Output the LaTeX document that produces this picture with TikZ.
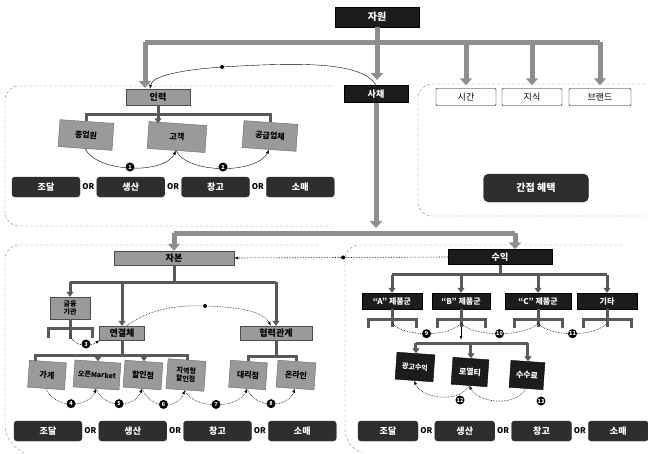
\documentclass[tikz,border=0pt]{standalone}
\usepackage{fontspec}
\setmainfont{Noto Sans CJK KR}
\usetikzlibrary{arrows.meta, positioning, calc}
\definecolor{cInk}{HTML}{1C1C1C}
\definecolor{cGrey}{HTML}{9A9A9A}
\definecolor{cBand}{HTML}{8E8E8E}
\definecolor{cZone}{HTML}{8A8A8A}

\begin{document}
\begin{tikzpicture}[x=1pt, y=-1pt,
    blk/.style = {draw=black, fill=cInk, text=white, minimum height=17pt, inner sep=1pt, font=\small\bfseries},
    gry/.style = {draw=black!70, fill=cGrey, minimum height=14pt, inner sep=1pt, font=\small\bfseries},
    card/.style = {draw=black!60, fill=cGrey, rotate=-4, inner sep=1pt, minimum height=27pt, align=center, font=\footnotesize\bfseries},
    bcard/.style = {card, draw=black, fill=cInk, text=white},
    wbox/.style = {draw=black, fill=white, rounded corners=1pt, minimum height=17pt, font=\small},
    pill/.style = {draw=black!80, fill=black!82, text=white, rounded corners=3pt, minimum height=20pt, font=\small\bfseries},
    orl/.style = {inner sep=1pt, font=\footnotesize\bfseries},
    band/.style = {draw=cBand, line width=5pt},
    fat/.style = {band, -{Triangle[width=12pt,length=7pt]}},
    bandsm/.style = {draw=gray!70!black, line width=3pt},
    fatsm/.style = {bandsm, -{Triangle[width=7pt,length=5pt]}},
    conn/.style = {thin, -{Latex[length=4pt]}},
    link/.style = {densely dotted, semithick, -{Latex[length=4pt]}},
    dots/.style = {densely dotted, semithick},
    zone/.style = {draw=cZone, densely dashed, thin, rounded corners=14pt},
    dot/.style = {circle, fill=black, inner sep=0pt, minimum size=4pt},
    num/.style = {circle, fill=black, text=white, inner sep=0pt, minimum size=9pt, font=\fontsize{5.5pt}{5.5pt}\selectfont\bfseries} ]
  \useasboundingbox[fill=white] (0,0) rectangle (648,453);

  % upper part
  \node[blk, minimum width=84pt, minimum height=20pt, font=\normalsize\bfseries] (res) at (377,17) {자원};
  \node[gry, minimum width=64pt, minimum height=16pt] (hr) at (158,97) {인력};
  \node[blk, minimum width=64pt] (mat) at (376,94) {사채};
  \node[wbox, minimum width=60pt] (time) at (466,97) {시간};
  \node[wbox, minimum width=60pt] (know) at (532,97) {지식};
  \node[wbox, minimum width=62pt] (brand) at (600,97) {브랜드};
  \node[pill, minimum width=105pt, minimum height=28pt, rounded corners=5pt, font=\normalsize\bfseries] (ind) at (536,188) {간접 혜택};

  \draw[zone] (332,86) -- (5,86) -- (5,226) -- (332,226);
  \draw[zone] (645,84) -- (418,84) -- (418,216) -- (645,216);

  \coordinate (b1) at (377,42);
  \draw[band] (res.south) -- (b1);
  \draw[band] (145,42) -- (brand.north |- b1);
  \draw[fat] (145,42) -- (145,88);
  \draw[fat] (b1) -- (377,80);
  \foreach \n in {time, know, brand}
    \draw[fat] (\n.north |- b1) -- ([yshift=3pt]\n.north);

  \node[dot] (d1) at (222,67) {};
  \draw[conn] (mat.north) .. controls (362,60) and (290,63) .. (d1.center)
    .. controls (180,70) and (152,76) .. ([xshift=-8pt]hr.north);

  \node[card, minimum width=54pt] (emp) at (86,135) {종업원};
  \node[card, minimum width=58pt] (cust) at (177,137) {고객};
  \node[card, minimum width=54pt] (supp) at (270,136) {공급업체};
  \draw[bandsm] (emp.north) -- ++(0,-7) -| (supp.north);
  \draw[fatsm] (hr.south) -- (hr.south |- cust.north);
  \draw[conn] (emp.south) .. controls +(12,24) and +(-12,24) .. (cust.south);
  \draw[conn] (cust.south) .. controls +(12,24) and +(-12,24) .. (supp.south);
  \node[num] at (130,167) {1};
  \node[num] at (223,167) {2};

  \node[pill, minimum width=68pt] (p1) at (46,187) {조달};
  \node[orl, right=1pt of p1] (o1) {OR};
  \node[pill, minimum width=68pt, right=1pt of o1] (p2) {생산};
  \node[orl, right=1pt of p2] (o2) {OR};
  \node[pill, minimum width=68pt, right=1pt of o2] (p3) {창고};
  \node[orl, right=1pt of p3] (o3) {OR};
  \node[pill, minimum width=68pt, right=1pt of o3] (p4) {소매};

  % lower part
  \draw[fat] (mat.south) -- (376,228);
  \node[gry, minimum width=120pt] (cap) at (174,258) {자본};
  \node[blk, minimum width=104pt, minimum height=15pt] (rev) at (500,257) {수익};
  \coordinate (b2) at (515,233);
  \draw[band] (cap.north |- b2) -- (b2);
  \draw[fat] (cap.north |- b2) -- (cap.north);
  \draw[fat] (b2) -- (b2 |- rev.north);
  \draw[link] (rev.west) -- (cap.east) node[dot, pos=0.49] {};

  \draw[zone] (318,245) -- (5,245) -- (5,440) -- (24,453);
  \draw[zone] (622,245) -- (345,245) -- (345,444) -- (362,453);

  \node[gry, minimum width=40pt, minimum height=22pt, align=center, font=\scriptsize\bfseries] (fin) at (70,308) {금융\\기관};
  \node[gry, minimum width=45pt] (link) at (122,333) {연결체};
  \node[gry, minimum width=72pt] (part) at (276,333) {협력관계};
  \draw[bandsm] (cap.south) -- ++(0,17) coordinate (cb);
  \draw[bandsm] (fin.north |- cb) -- (part.north |- cb);
  \foreach \n in {fin, link, part}
    \draw[fatsm] (\n.north |- cb) -- (\n.north);
  \draw[bandsm] (fin.south) -- ++(0,20);
  \draw[bandsm] ($(fin.south)+(-22,19)$) -- ++(0,-10) -| ($(fin.south)+(22,19)$);
  \draw[link] ($(fin.south)+(0,16)$) .. controls (74,348) and (92,346) .. (link.south west);
  \node[num] at (86,344) {3};
  \node[dot] (d3) at (205,306) {};
  \draw[link] ([xshift=5pt]link.north) .. controls (150,308) and (180,305) .. (d3.center)
    .. controls (235,307) and (262,310) .. ([xshift=-5pt]part.north);

  \node[card, minimum width=37pt] (store) at (47,375) {가게};
  \node[card, minimum width=46pt, font=\scriptsize\bfseries] (market) at (97,375) {오픈Market};
  \node[card, minimum width=38pt] (disc) at (143,375) {할인점};
  \node[card, minimum width=38pt, minimum height=30pt, font=\scriptsize\bfseries] (local) at (186,375) {지역형\\할인점};
  \node[card, minimum width=37pt] (branch) at (248,375) {대리점};
  \node[card, minimum width=38pt] (online) at (296,375) {온라인};
  \draw[bandsm] (link.south) -- ++(0,15) coordinate (lb);
  \draw[bandsm] (store.north -| 35,0) |- (local.north |- lb) -- (local.north);
  \foreach \n in {market, disc}
    \draw[fatsm] (\n.north |- lb) -- (\n.north);
  \draw[bandsm] (part.south) -- ++(0,16) coordinate (pb0);
  \draw[bandsm] (branch.north) |- (pb0) -| (online.north);
  \foreach \a/\b/\k in {store/market/4, market/disc/5, disc/local/6, local/branch/7, branch/online/8}
    \draw[link] (\a.south) .. controls +(8,20) and +(-8,20) .. (\b.south) node[num, pos=0.5] {\k};

  \node[pill, minimum width=68pt] (q1) at (48,431) {조달};
  \node[orl, right=1pt of q1] (r1) {OR};
  \node[pill, minimum width=68pt, right=1pt of r1] (q2) {생산};
  \node[orl, right=1pt of q2] (r2) {OR};
  \node[pill, minimum width=68pt, right=1pt of r2] (q3) {창고};
  \node[orl, right=1pt of q3] (r3) {OR};
  \node[pill, minimum width=68pt, right=1pt of r3] (q4) {소매};

  \node[blk, minimum width=60pt, minimum height=16pt, font=\footnotesize\bfseries] (pa) at (392,301) {“A” 제품군};
  \node[blk, minimum width=58pt, minimum height=16pt, font=\footnotesize\bfseries] (pb) at (461,301) {“B” 제품군};
  \node[blk, minimum width=66pt, minimum height=16pt, font=\footnotesize\bfseries] (pc) at (538,301) {“C” 제품군};
  \node[blk, minimum width=60pt, minimum height=16pt, font=\footnotesize\bfseries] (pd) at (607,301) {기타};
  \draw[bandsm] (rev.south) -- ++(0,10) coordinate (rb0);
  \draw[bandsm] (pa.north |- rb0) -- (pd.north |- rb0);
  \foreach \n in {pa, pb, pc, pd} {
    \draw[fatsm] (\n.north |- rb0) -- (\n.north);
    \draw[bandsm] (\n.south) -- ++(0,18);
    \draw[bandsm] ($(\n.south)+(-24,19)$) -- ++(0,-9) -| ($(\n.south)+(24,19)$);
  }
  \foreach \a/\b/\k in {pa/pb/9, pb/pc/10, pc/pd/11}
    \draw[dots] ($(\a.south)+(0,14)$) .. controls +(12,14) and +(-12,14) .. ($(\b.south)+(0,14)$) node[num, pos=0.5] {\k};

  \node[bcard, minimum width=38pt, font=\scriptsize\bfseries] (ad) at (415,367) {광고수익};
  \node[bcard, minimum width=36pt] (roy) at (470,372) {로열티};
  \node[bcard, minimum width=34pt] (fee) at (527,375) {수수료};
  \draw[-{Latex[length=4pt]}, thick] ($(pb.south)+(0,18)$) -- (pb.south |- 0,340);
  \coordinate (rb) at (470,343);
  \draw[bandsm] (ad.north |- rb) -- (fee.north |- rb);
  \foreach \n in {ad, roy, fee}
    \draw[fatsm] (\n.north |- rb) -- (\n.north);
  \draw[link] (roy.south) .. controls +(-10,18) and +(8,18) .. (ad.south);
  \draw[link] (fee.south) .. controls +(-10,18) and +(10,18) .. (roy.south);
  \node[num] at (460,400) {12};
  \node[num] at (541,401) {13};

  \node[pill, minimum width=60pt] (s1) at (388,431) {조달};
  \node[orl, right=1pt of s1] (t1) {OR};
  \node[pill, minimum width=60pt, right=1pt of t1] (s2) {생산};
  \node[orl, right=1pt of s2] (t2) {OR};
  \node[pill, minimum width=60pt, right=1pt of t2] (s3) {창고};
  \node[orl, right=1pt of s3] (t3) {OR};
  \node[pill, minimum width=60pt, right=1pt of t3] (s4) {소매};
\end{tikzpicture}
\end{document}
